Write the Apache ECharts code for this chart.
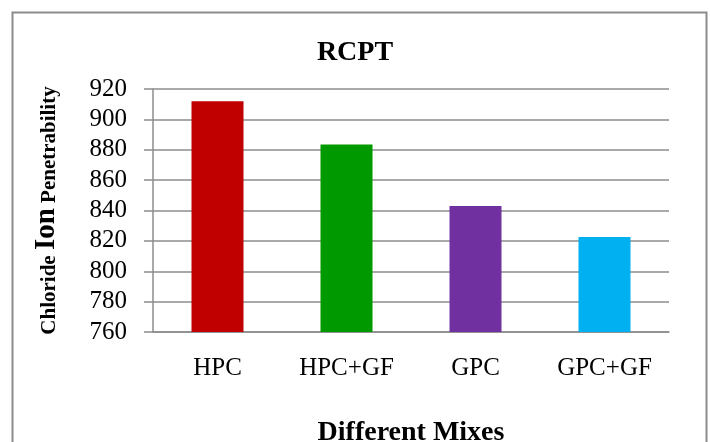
<!DOCTYPE html>
<html>
<head>
<meta charset="utf-8">
<script src="https://cdn.jsdelivr.net/npm/echarts@6/dist/echarts.min.js"></script>
<style>
html,body{margin:0;padding:0;background:#fff;overflow:hidden;}
#chart{width:710px;height:442px;}
</style>
</head>
<body>
<div id="chart"></div>
<script>
var categories = ['HPC', 'HPC+GF', 'GPC', 'GPC+GF'];
var values = [912, 883.5, 843, 822.5];
var barColors = ['#C00000', '#009900', '#7030A0', '#00B0F0'];
var yMin = 760, yMax = 920, yStep = 20;

var chart = echarts.init(document.getElementById('chart'), null, {width: 710, height: 442});
chart.setOption({
  animation: false,
  backgroundColor: '#fff',
  title: {
    text: 'RCPT',
    left: 'center',
    top: 39,
    padding: 0,
    textStyle: {fontFamily: 'Liberation Serif', fontWeight: 'bold', fontSize: 28, color: '#000'}
  },
  graphic: [{
    type: 'rect',
    shape: {x: 12.5, y: 12.5, width: 694, height: 440},
    style: {fill: 'none', stroke: '#8c8c8c', lineWidth: 2},
    silent: true
  }],
  grid: {left: 153, right: 41, top: 89, bottom: 110, containLabel: false, outerBoundsMode: 'none'},
  xAxis: {
    type: 'category',
    data: categories,
    name: 'Different Mixes',
    nameLocation: 'middle',
    nameGap: 87,
    nameTextStyle: {fontFamily: 'Liberation Serif', fontWeight: 'bold', fontSize: 28, color: '#000', verticalAlign: 'top'},
    axisLine: {lineStyle: {color: '#8c8c8c', width: 1.5}},
    axisTick: {show: false},
    axisLabel: {fontFamily: 'Liberation Serif', fontSize: 25, color: '#000', margin: 24}
  },
  yAxis: {
    type: 'value',
    min: yMin, max: yMax, interval: yStep,
    name: '{a|Chloride }{b|Ion}{a| Penetrability}',
    nameLocation: 'middle',
    nameRotate: 90,
    nameGap: 92,
    nameTextStyle: {
      color: '#000',
      rich: {
        a: {fontFamily: 'Liberation Serif', fontWeight: 'bold', fontSize: 21, color: '#000', verticalAlign: 'bottom', lineHeight: 32, padding: [0, 0, 1, 0]},
        b: {fontFamily: 'Liberation Serif', fontWeight: 'bold', fontSize: 29, color: '#000', verticalAlign: 'bottom', lineHeight: 32}
      }
    },
    axisLine: {show: true, lineStyle: {color: '#8c8c8c', width: 1.5}},
    axisTick: {show: true, length: 9, lineStyle: {color: '#8c8c8c', width: 1.5}},
    splitLine: {lineStyle: {color: '#8c8c8c', width: 1.5}},
    axisLabel: {fontFamily: 'Liberation Serif', fontSize: 25, color: '#000', margin: 26}
  },
  series: [{
    type: 'bar',
    barWidth: 52,
    data: values.map(function (v, i) { return {value: v, itemStyle: {color: barColors[i]}}; })
  }]
});
</script>
</body>
</html>
